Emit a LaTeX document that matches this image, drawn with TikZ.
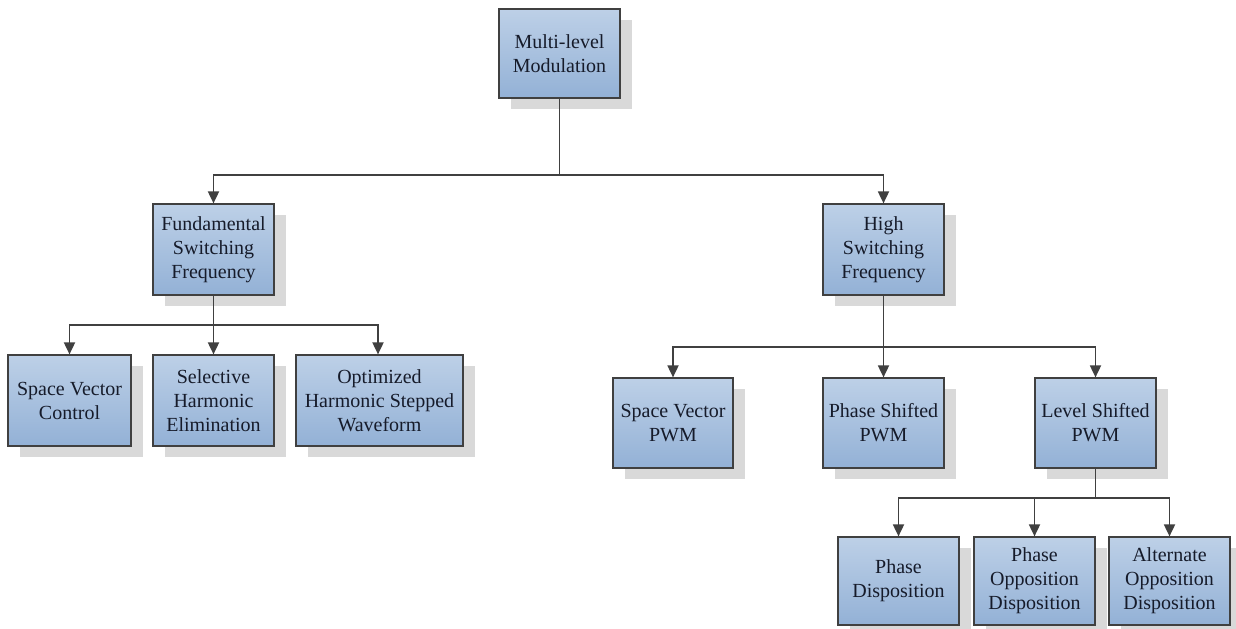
\documentclass[tikz,border=0pt]{standalone}
\usepackage{fontspec}
\setmainfont{Liberation Serif}
\usetikzlibrary{arrows.meta,shadows}
\definecolor{boxtop}{HTML}{BDD0E7}
\definecolor{boxbot}{HTML}{93B1D6}
\definecolor{edge}{HTML}{404040}
\definecolor{shade}{HTML}{D9D9D9}
\definecolor{ink}{HTML}{161B2A}
\tikzset{
  box/.style={draw=edge, line width=1.2bp, top color=boxtop, bottom color=boxbot,
    align=center, text=ink, inner sep=2bp,
    font=\fontsize{20bp}{24bp}\selectfont,
    general shadow={fill=shade, shadow xshift=12bp, shadow yshift=-11bp}},
  link/.style={draw=edge, line width=1.8bp},
  arr/.style={link, -{Triangle[length=12bp,width=11bp]}},
}
\begin{document}
\begin{tikzpicture}[x=1bp,y=-1bp]
\useasboundingbox (0,0) rectangle (1236,629);
\fill[white] (0,0) rectangle (1236,629);

% root
\node[box, minimum width=121bp, minimum height=89bp] (top) at (559.5,53.5) {Multi-level\\Modulation};

% second level
\node[box, minimum width=121bp, minimum height=91bp] (fund) at (213.5,249.5) {Fundamental\\Switching\\Frequency};
\node[box, minimum width=121bp, minimum height=91bp] (high) at (883.5,249.5) {High\\Switching\\Frequency};

% fundamental switching methods
\node[box, minimum width=123bp, minimum height=91bp] (svc) at (69.5,400.5) {Space Vector\\Control};
\node[box, minimum width=121bp, minimum height=91bp] (she) at (213.5,400.5) {Selective\\Harmonic\\Elimination};
\node[box, minimum width=167bp, minimum height=91bp] (ohsw) at (379.5,400.5) {Optimized\\Harmonic Stepped\\Waveform};

% high switching methods
\node[box, minimum width=120bp, minimum height=90bp] (svpwm) at (673,423) {Space Vector\\PWM};
\node[box, minimum width=121bp, minimum height=90bp] (psp) at (883.5,423) {Phase Shifted\\PWM};
\node[box, minimum width=121bp, minimum height=90bp] (lsp) at (1095.5,423) {Level Shifted\\PWM};

% level shifted variants
\node[box, minimum width=121bp, minimum height=88bp] (pd) at (898.5,581) {Phase\\Disposition};
\node[box, minimum width=121bp, minimum height=88bp] (pod) at (1034.5,581) {Phase\\Opposition\\Disposition};
\node[box, minimum width=121bp, minimum height=88bp] (aod) at (1169.5,581) {Alternate\\Opposition\\Disposition};

% branch points
\coordinate (j1) at (559.5,175);
\coordinate (j2) at (213.5,325);
\coordinate (j3) at (883.5,347);
\coordinate (j4) at (1095.5,498);

% connectors
\draw[link] (top.south) -- (j1);
\draw[arr] (j1) -| (fund.north);
\draw[arr] (j1) -| (high.north);

\draw[link] (fund.south) -- (j2);
\draw[arr] (j2) -| (svc.north);
\draw[arr] (j2) -- (she.north);
\draw[arr] (j2) -| ([xshift=-1.5bp]ohsw.north);

\draw[link] (high.south) -- (j3);
\draw[arr] (j3) -| (svpwm.north);
\draw[arr] (j3) -- (psp.north);
\draw[arr] (j3) -| (lsp.north);

\draw[link] (lsp.south) -- (j4);
\draw[arr] (j4) -| (pd.north);
\draw[arr] (j4) -| (pod.north);
\draw[arr] (j4) -| (aod.north);
\end{tikzpicture}
\end{document}
